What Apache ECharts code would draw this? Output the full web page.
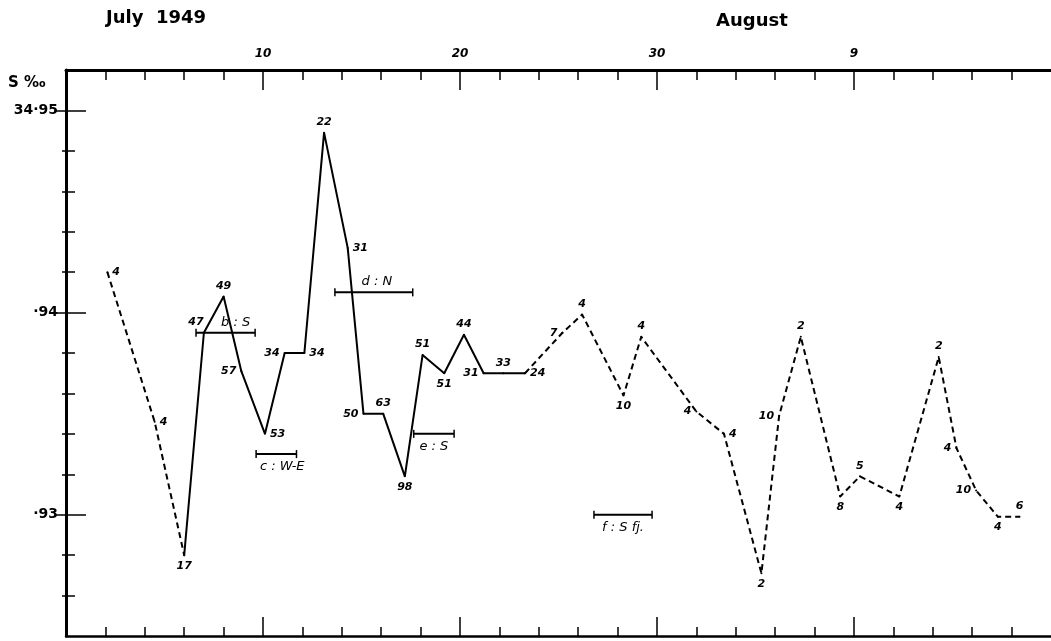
<!DOCTYPE html>
<html>
<head>
<meta charset="utf-8">
<script src="https://cdn.jsdelivr.net/npm/echarts@6/dist/echarts.min.js"></script>
<style>
  html, body { margin: 0; padding: 0; background: #fff; }
  #chart { width: 1051px; height: 641px; }
</style>
</head>
<body>
<div id="chart"></div>
<script>
// x = day counted from 1 July 1949 (31 = 31 July, 40 = 9 August)
const dashADays = [2.1, 4.5, 6.0];
const dashASal = [34.9420, 34.9346, 34.9280];
const dashALabels = ['4', '4', '17'];

const solidDays = [6.0, 7.0, 8.0, 8.9, 10.1, 11.1, 12.1, 13.1, 14.3, 15.1, 16.1, 17.2, 18.1, 19.2, 20.2, 21.2, 22.2, 23.3];
const solidSal = [34.9280, 34.9390, 34.9408, 34.9371, 34.9340, 34.9380, 34.9380, 34.9489, 34.9432, 34.9350, 34.9350, 34.9319, 34.9379, 34.9370, 34.9389, 34.9370, 34.9370, 34.9370];
const solidLabels = ['', '47', '49', '57', '53', '34', '34', '22', '31', '50', '63', '98', '51', '51', '44', '31', '33', '24'];

const dashBDays = [23.3, 25.2, 26.2, 28.3, 29.2, 32.0, 33.4, 35.3, 36.2, 37.3, 39.3, 40.3, 42.3, 44.3, 45.2, 46.2, 47.3, 48.4];
const dashBSal = [34.9370, 34.9390, 34.9399, 34.9359, 34.9388, 34.9351, 34.9340, 34.9271, 34.9349, 34.9388, 34.9309, 34.9319, 34.9309, 34.9378, 34.9333, 34.9312, 34.9299, 34.9299];
const dashBLabels = ['', '7', '4', '10', '4', '4', '4', '2', '10', '2', '8', '5', '4', '2', '4', '10', '4', '6'];

// station intervals
const rangeStart = [6.6, 9.65, 13.65, 17.65, 26.8];
const rangeEnd = [9.6, 11.7, 17.6, 19.7, 29.75];
const rangeSal = [34.9390, 34.9330, 34.9410, 34.9340, 34.9300];
const rangeText = ['b : S', 'c : W-E', 'd : N', 'e : S', 'f : S fj.'];

// ticks
const xMinorTicks = [2, 4, 6, 8, 12, 14, 16, 18, 22, 24, 26, 28, 32, 34, 36, 38, 42, 44, 46, 48];
const xMajorTicks = [10, 20, 30, 40];
const xTopLabels = ['10', '20', '30', '9'];
const yMinorTicks = [34.926, 34.928, 34.932, 34.934, 34.936, 34.938, 34.942, 34.944, 34.946, 34.948];
const yMajorTicks = [34.93, 34.94, 34.95];
const yLabels = ['·93', '·94', '34·95'];

// label placement (style only)
const dashAPos = ['right', 'right', 'bottom'];
const solidPos = ['top', 'tl', 'top', 'left', 'right', 'left', 'right', 'top', 'right', 'left', 'top', 'bottom', 'top', 'bottom', 'top', 'left', 'top', 'right'];
const dashBPos = ['top', 'left', 'top', 'bottom', 'top', 'left', 'right', 'bottom', 'left', 'top', 'bottom', 'top', 'bottom', 'top', 'left', 'left', 'bottom', 'top'];
const rangeSide = ['top', 'bottom', 'top', 'bottom', 'bottom'];
const rangeShift = [10, 6, 3, 0, 0];

const placeMap = {
  top: { position: 'top' },
  bottom: { position: 'bottom' },
  left: { position: 'left' },
  right: { position: 'right' },
  tl: { position: 'top', offset: [-8, 0] }
};

function points(days, sal, labels, pos) {
  return days.map((d, i) => ({
    value: [d, sal[i]],
    label: Object.assign({ show: labels[i] !== '', formatter: labels[i] }, placeMap[pos[i]])
  }));
}

const font = 'DejaVu Sans';
const pointLabel = { color: '#000', fontSize: 11, fontWeight: 'bold', fontStyle: 'italic', fontFamily: font, distance: 4 };

function lineSeries(data, dashed) {
  return {
    type: 'line',
    data: data,
    symbol: 'circle',
    symbolSize: 2,
    itemStyle: { color: '#000' },
    lineStyle: { color: '#000', width: 2, type: dashed ? [6, 4] : 'solid' },
    label: pointLabel,
    emphasis: { disabled: true },
    animation: false
  };
}

const xBase = { type: 'value', min: 0, max: 50, splitLine: { show: false }, axisLabel: { show: false } };
const yBase = { type: 'value', min: 34.924, max: 34.952, splitLine: { show: false }, axisLabel: { show: false } };
const headStyle = { fontSize: 18, fontWeight: 'bold', fontFamily: font, color: '#000' };

const myChart = echarts.init(document.getElementById('chart'));
const option = {
  backgroundColor: '#fff',
  animation: false,
  title: [
    { text: 'July  1949', left: 106, top: 9, padding: 0, textStyle: headStyle },
    { text: 'August', left: 716, top: 12, padding: 0, textStyle: headStyle },
    { text: 'S ‰', left: 8, top: 76, padding: 0, textStyle: { fontSize: 15, fontWeight: 'bold', fontFamily: font, color: '#000' } }
  ],
  grid: { left: 66, right: 0, top: 70, bottom: 5, outerBoundsMode: 'none' },
  xAxis: [
    Object.assign({}, xBase, {
      position: 'bottom',
      axisLine: { lineStyle: { color: '#000', width: 2.5 } },
      axisTick: { inside: true, length: 9, customValues: xMinorTicks, lineStyle: { color: '#000', width: 1.5 } }
    }),
    Object.assign({}, xBase, {
      position: 'bottom',
      axisLine: { show: false },
      axisTick: { inside: true, length: 19, customValues: xMajorTicks, lineStyle: { color: '#000', width: 1.5 } }
    }),
    Object.assign({}, xBase, {
      position: 'top',
      axisLine: { lineStyle: { color: '#000', width: 3 } },
      axisTick: { inside: true, length: 10, customValues: xMinorTicks, lineStyle: { color: '#000', width: 1.5 } }
    }),
    Object.assign({}, xBase, {
      position: 'top',
      axisLine: { show: false },
      axisTick: { inside: true, length: 20, customValues: xMajorTicks, lineStyle: { color: '#000', width: 1.5 } },
      axisLabel: {
        show: true, customValues: xMajorTicks, margin: 10,
        formatter: v => xTopLabels[xMajorTicks.indexOf(v)],
        color: '#000', fontSize: 12, fontWeight: 'bold', fontStyle: 'italic', fontFamily: font
      }
    })
  ],
  yAxis: [
    Object.assign({}, yBase, {
      position: 'left',
      axisLine: { lineStyle: { color: '#000', width: 3 } },
      axisTick: { inside: true, length: 9, customValues: yMinorTicks, lineStyle: { color: '#000', width: 1.5 } }
    }),
    Object.assign({}, yBase, {
      position: 'left',
      axisLine: { show: false },
      axisTick: { inside: true, length: 20, customValues: yMajorTicks, lineStyle: { color: '#000', width: 1.5 } },
      axisLabel: {
        show: true, customValues: yMajorTicks, margin: 8,
        formatter: v => yLabels[yMajorTicks.findIndex(m => Math.abs(m - v) < 1e-6)],
        color: '#000', fontSize: 14, fontWeight: 'bold', fontFamily: font
      }
    }),
    Object.assign({}, yBase, {
      position: 'right',
      axisLine: { lineStyle: { color: '#000', width: 2 } },
      axisTick: { inside: true, length: 4, customValues: yMinorTicks, lineStyle: { color: '#000', width: 1.5 } }
    }),
    Object.assign({}, yBase, {
      position: 'right',
      axisLine: { show: false },
      axisTick: { inside: true, length: 12, customValues: yMajorTicks, lineStyle: { color: '#000', width: 1.5 } }
    })
  ],
  series: [
    lineSeries(points(dashADays, dashASal, dashALabels, dashAPos), true),
    lineSeries(points(solidDays, solidSal, solidLabels, solidPos), false),
    lineSeries(points(dashBDays, dashBSal, dashBLabels, dashBPos), true),
    {
      type: 'custom',
      animation: false,
      data: rangeStart.map((s, i) => [s, rangeSal[i], rangeEnd[i], i]),
      encode: { x: [0, 2], y: 1 },
      renderItem: (params, api) => {
        const i = api.value(3);
        const a = api.coord([api.value(0), api.value(1)]);
        const b = api.coord([api.value(2), api.value(1)]);
        const up = rangeSide[i] === 'top';
        return {
          type: 'group',
          children: [
            { type: 'line', shape: { x1: a[0], y1: a[1], x2: b[0], y2: b[1] }, style: { stroke: '#000', lineWidth: 2 } },
            { type: 'line', shape: { x1: a[0], y1: a[1] - 4, x2: a[0], y2: a[1] + 4 }, style: { stroke: '#000', lineWidth: 1.5 } },
            { type: 'line', shape: { x1: b[0], y1: b[1] - 4, x2: b[0], y2: b[1] + 4 }, style: { stroke: '#000', lineWidth: 1.5 } },
            {
              type: 'text', x: (a[0] + b[0]) / 2 + rangeShift[i], y: up ? a[1] - 4 : a[1] + 6,
              style: {
                text: rangeText[i], fill: '#000', fontSize: 13, fontStyle: 'italic', fontFamily: font,
                align: 'center', verticalAlign: up ? 'bottom' : 'top'
              }
            }
          ]
        };
      }
    }
  ]
};
myChart.setOption(option);
</script>
</body>
</html>
